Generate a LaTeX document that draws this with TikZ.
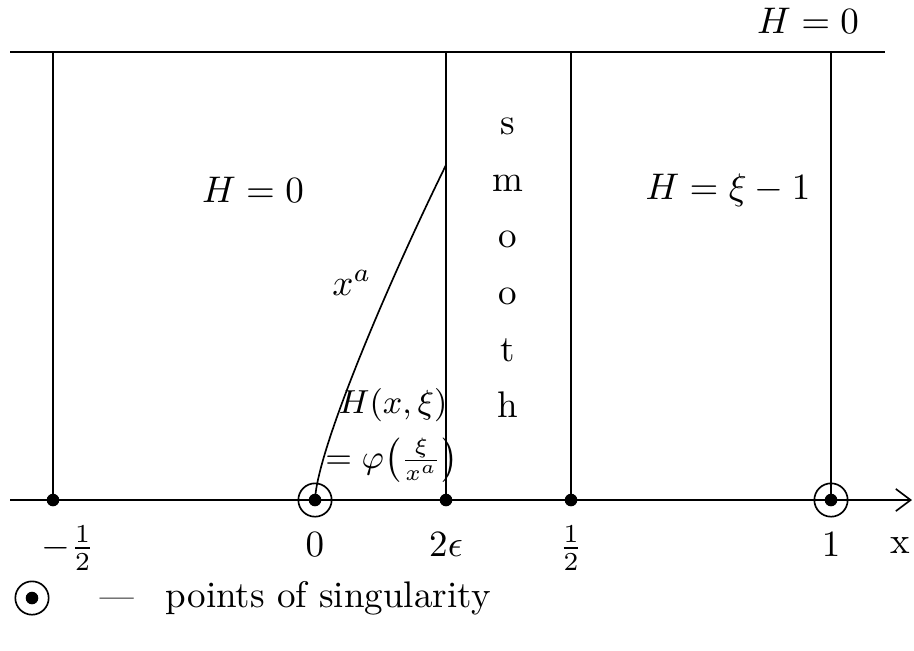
\documentclass[tikz,border=0pt]{standalone}
\usetikzlibrary{arrows.meta}
\begin{document}
\begin{tikzpicture}[x=0.27pt,y=-0.27pt,
  ln/.style={line width=0.45pt},
  dotpt/.style={circle,fill=black,inner sep=0pt,minimum size=3.4pt},
  ring/.style={circle,draw,line width=0.45pt,inner sep=0pt,minimum size=9pt},
  lab/.style={inner sep=0pt}]
\useasboundingbox (0,0) rectangle (914,650);
% key coordinates
\coordinate (tl) at (10,52);
\coordinate (tr) at (885,52);
\coordinate (al) at (10,500);
\coordinate (ar) at (912,500);
\coordinate (tA) at (53,52);
\coordinate (tC) at (446,52);
\coordinate (tD) at (571,52);
\coordinate (tE) at (831,52);
\coordinate (cEnd) at (446,165);
% axis points
\node[dotpt] (pA) at (53,500) {};
\node[dotpt] (pB) at (315,500) {};
\node[dotpt] (pC) at (446,500) {};
\node[dotpt] (pD) at (571,500) {};
\node[dotpt] (pE) at (831,500) {};
\node[ring] (rB) at (315,500) {};
\node[ring] (rE) at (831,500) {};
% lines
\draw[ln] (tl) -- (tr);
\draw[ln,-{Straight Barb[length=4pt,width=6pt]}] (al) -- (ar);
\draw[ln] (tA) -- (pA.center);
\draw[ln] (tC) -- (pC.center);
\draw[ln] (tD) -- (pD.center);
\draw[ln] (tE) -- (pE.center);
\draw[ln] (pB.center) .. controls (317,450) and (387,285) .. (cEnd);
% labels
\node[lab] (h0a) at (253,190) {$H=0$};
\node[lab] (h1) at (728,190) {$H=\xi-1$};
\node[lab] (h0b) at (808,21) {$H=0$};
\node[lab] (xa) at (352,283) {$x^a$};
\node[lab,font=\small] (hx) at (393,405) {$H(x,\xi)$};
\node[lab,font=\small] (phi) at (392,460) {$=\varphi\bigl(\frac{\xi}{x^a}\bigr)$};
\node[lab,align=center] (sm) at (508,268) {s\\[3.3pt]m\\[3.3pt]o\\[3.3pt]o\\[3.3pt]t\\[3.3pt]h};
% tick labels
\node[lab] (lA) at (68,548) {$-\frac12$};
\node[lab] (lB) at (315,545) {$0$};
\node[lab] (lC) at (446,545) {$2\epsilon$};
\node[lab] (lD) at (571,548) {$\frac12$};
\node[lab] (lE) at (831,545) {$1$};
\node[lab] (lx) at (900,545) {x};
% legend
\node[dotpt] (gd) at (32,598) {};
\node[ring] (gr) at (32,598) {};
\node[lab,anchor=west] (gt) at (99,598) {{\small ---}\hspace{8.6pt}points of singularity};
\end{tikzpicture}
\end{document}
